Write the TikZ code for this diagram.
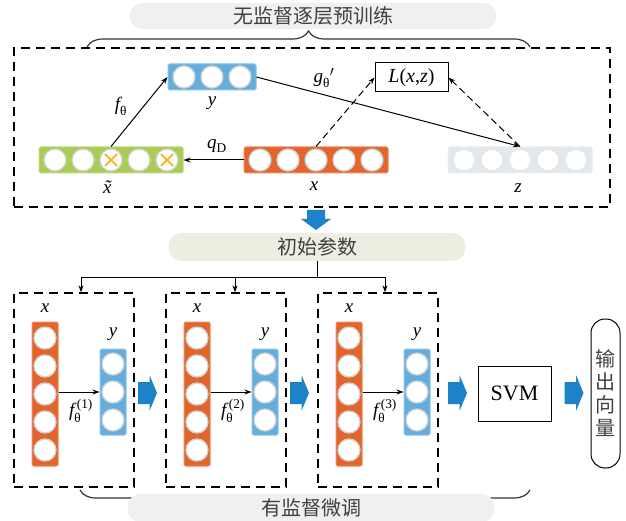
\documentclass[tikz,border=0pt]{standalone}
\usepackage{amsmath}
\usepackage{fontspec}
\setmainfont{Liberation Serif}
\newfontfamily\cjk{Noto Sans CJK SC}
\usetikzlibrary{arrows.meta,decorations.pathreplacing}

\definecolor{hidblue}{RGB}{100,174,222}
\definecolor{inorange}{RGB}{226,102,44}
\definecolor{noisegreen}{RGB}{170,204,84}
\definecolor{outgray}{RGB}{226,232,236}
\definecolor{crossyel}{RGB}{246,182,40}
\definecolor{tagbeige}{RGB}{238,238,226}
\definecolor{taggray}{RGB}{240,240,240}
\definecolor{flowblue}{RGB}{30,130,200}

\begin{document}
\begin{tikzpicture}[x=1pt, y=-1pt, font=\fontsize{19}{21}\selectfont,
  layer/.style={fill=#1, draw=#1!75!white, line width=1pt, rounded corners=1.5pt, inner sep=0pt},
  unit/.style={circle, fill=white, draw=black!18, line width=1.3pt, minimum size=22pt, inner sep=0pt},
  stage/.style={draw, line width=1.3pt, dash pattern=on 9pt off 6pt, inner sep=0pt},
  tag/.style={fill=#1, rounded corners=13pt, text=black!75, font=\cjk\fontsize{20}{22}\selectfont},
  link/.style={-{Stealth[length=7pt,width=5pt]}, line width=1pt},
  dlink/.style={link, dash pattern=on 7pt off 4pt},
  cross/.style={crossyel, line width=2pt},
  brace/.style={decorate, decoration={brace, amplitude=16pt}, line width=1.2pt, black!80},
  flow/.pic={\fill[flowblue] (-9.5,-11) -- (2,-11) -- (2,-18) -- (9.5,0) -- (2,18) -- (2,11) -- (-9.5,11) -- cycle;}]
  \useasboundingbox (0,0) rectangle (626,521);

  % pre-training part
  \node[tag=taggray, minimum width=367pt, minimum height=26pt] (pretag) at (313,16) {无监督逐层预训练};
  \draw[brace] (87,47) -- (530,47);
  \node[stage, minimum width=596pt, minimum height=159pt] (pre) at (312,127.5) {};

  % layers
  \node[layer=hidblue, minimum width=88pt, minimum height=26pt] (hid) at (212,77) {};
  \foreach \i/\x in {1/184,2/212,3/240}
    \node[unit] (hid-\i) at (\x,77) {};
  \node[layer=noisegreen, minimum width=144pt, minimum height=26pt] (xt) at (111,160) {};
  \foreach \i/\x in {1/55,2/83,3/111,4/139,5/167}
    \node[unit] (xt-\i) at (\x,160) {};
  \foreach \c in {3,5}
    \draw[cross] (xt-\c.center) +(-6,-6) -- +(6,6) +(-6,6) -- +(6,-6);
  \node[layer=inorange, minimum width=144pt, minimum height=26pt] (xo) at (316,160) {};
  \foreach \i/\x in {1/260,2/288,3/316,4/344,5/372}
    \node[unit] (xo-\i) at (\x,160) {};
  \node[layer=outgray, minimum width=144pt, minimum height=26pt] (zn) at (520,160) {};
  \foreach \i/\x in {1/464,2/492,3/520,4/548,5/576}
    \node[unit, draw=black!10] (zn-\i) at (\x,160) {};
  \node[draw, line width=1pt, minimum width=73pt, minimum height=29pt, inner sep=0pt,
        font=\fontsize{20}{22}\selectfont] (loss) at (411.5,77.5) {\textit{L}(\textit{x},\textit{z})};

  % labels
  \node (ylab) at (212,103) {\textit{y}};
  \node[inner sep=1pt] (xtlab) at (111,187) {\textit{\~{x}}};
  \node (xlab) at (314,186) {\textit{x}};
  \node (zlab) at (518,188) {\textit{z}};
  \node (flab) at (121,106) {$\textit{f}_{\text{θ}}$};
  \node (qlab) at (217,146) {$\textit{q}_{\text{D}}$};
  \node (glab) at (324,78) {$\textit{g}_{\text{θ}}{}'$};

  % connections
  \draw[link] (xt.north) -- (hid.west);
  \draw[link] (xo.west) -- (xt.east);
  \draw[link] (hid.east) -- (zn.north);
  \draw[dlink] (xo.north) -- (loss.west);
  \draw[dlink] (zn.north) -- (loss.east);

  % to fine-tuning
  \fill[flowblue] (307,210) -- (325,210) -- (325,219) -- (331,219) -- (316,230) -- (301,219) -- (307,219) -- cycle;
  \node[tag=tagbeige, minimum width=297pt, minimum height=28pt] (init) at (317,247) {初始参数};

  % stacked layers
  \foreach \k/\dx in {1/0,2/152,3/304} {
    \begin{scope}[xshift=\dx pt]
      \node[stage, minimum width=120pt, minimum height=194pt] (s\k) at (74,390) {};
      \node[layer=inorange, minimum width=26pt, minimum height=144pt] (in\k) at (45,394) {};
      \foreach \i/\y in {1/338,2/366,3/394,4/422,5/450}
        \node[unit] (in\k-\i) at (45,\y) {};
      \node[layer=hidblue, minimum width=26pt, minimum height=86pt] (out\k) at (113,392) {};
      \foreach \i/\y in {1/364,2/392,3/420}
        \node[unit] (out\k-\i) at (113,\y) {};
      \node (xin\k) at (45,308) {\textit{x}};
      \node (yout\k) at (113,334) {\textit{y}};
      \node (fk\k) at (81,411) {$\textit{f}^{\,\text{(\k)}}_{\text{θ}}$};
      \draw[link] (in\k.east |- out\k.west) -- (out\k.west);
    \end{scope}
  }
  \draw[link] (init.south) -- ++(0,16) -| ([xshift=7pt]s1.north);
  \draw[link] (init.south) -- ++(0,16) -| ([xshift=9pt]s2.north);
  \draw[link] (init.south) -- ++(0,16) -| ([xshift=7pt]s3.north);

  % classifier
  \node[draw, line width=1pt, minimum width=73pt, minimum height=55pt,
        font=\fontsize{22}{24}\selectfont] (svm) at (514.5,393.5) {SVM};
  \node[draw, line width=1pt, rounded corners=14pt, minimum width=29pt, minimum height=149pt, inner sep=0pt,
        align=center, text=black!75, font=\cjk\fontsize{20}{23}\selectfont] (vec) at (605.5,393.5) {输\\出\\向\\量};
  \pic at (147.5,393) {flow};
  \pic at (299.5,393) {flow};
  \pic at (457.5,393) {flow};
  \pic at (574,393) {flow};

  % fine-tuning part
  \draw[brace] (530,490) -- (80,490);
  \node[tag=taggray, minimum width=367pt, minimum height=28pt] (fttag) at (311,508) {有监督微调};
\end{tikzpicture}
\end{document}
